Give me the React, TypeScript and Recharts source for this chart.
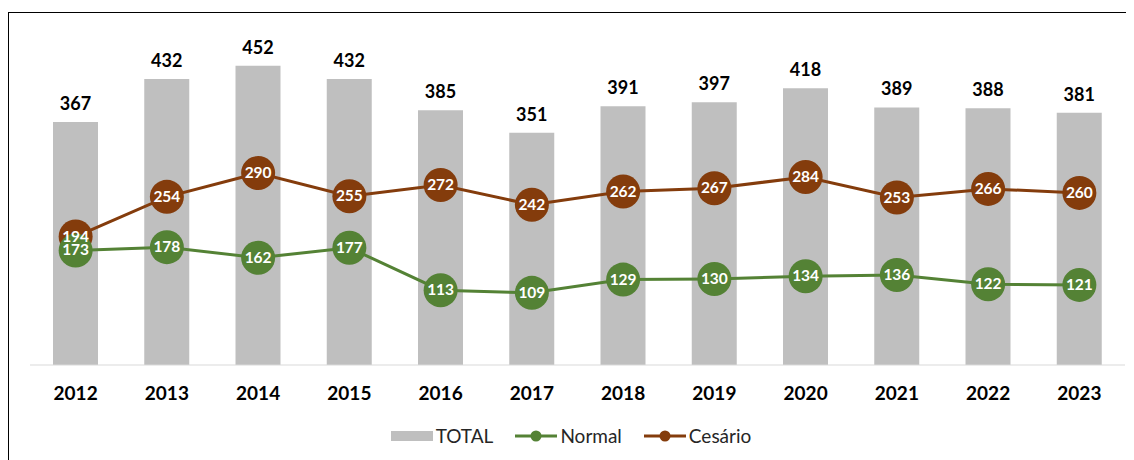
import {
  ComposedChart,
  Bar,
  Line,
  XAxis,
  YAxis,
  LabelList,
  Legend,
} from 'recharts';

const years = ['2012', '2013', '2014', '2015', '2016', '2017', '2018', '2019', '2020', '2021', '2022', '2023'];
const total = [367, 432, 452, 432, 385, 351, 391, 397, 418, 389, 388, 381];
const normal = [173, 178, 162, 177, 113, 109, 129, 130, 134, 136, 122, 121];
const cesario = [194, 254, 290, 255, 272, 242, 262, 267, 284, 253, 266, 260];

const GRAY = '#BFBFBF';
const GREEN = '#548235';
const BROWN = '#843C0C';
const FONT = 'Lato, "Open Sans", sans-serif';

const data = years.map((year, i) => ({
  year,
  total: total[i],
  normal: normal[i],
  cesario: cesario[i],
}));

const BubbleLabel = (props: any) => {
  const { x, y, value } = props;
  return (
    <text
      x={x}
      y={y}
      dy={5}
      textAnchor="middle"
      fill="#fff"
      fontWeight={700}
      fontSize={15.5}
      fontFamily={FONT}
    >
      {value}
    </text>
  );
};

const LegendContent = () => {
  const items = [
    { label: 'TOTAL', color: GRAY, kind: 'bar' },
    { label: 'Normal', color: GREEN, kind: 'line' },
    { label: 'Cesário', color: BROWN, kind: 'line' },
  ];
  return (
    <div style={{ display: 'flex', justifyContent: 'center', gap: 22, fontFamily: FONT, fontSize: 19, color: '#262626' }}>
      {items.map((it) => (
        <div key={it.label} style={{ display: 'flex', alignItems: 'center', gap: 3 }}>
          <svg width={42} height={14}>
            {it.kind === 'bar' ? (
              <rect x={0} y={2} width={42} height={10} fill={it.color} />
            ) : (
              <g>
                <line x1={0} y1={7} x2={42} y2={7} stroke={it.color} strokeWidth={3} />
                <circle cx={21} cy={7} r={5.5} fill={it.color} />
              </g>
            )}
          </svg>
          <span>{it.label}</span>
        </div>
      ))}
    </div>
  );
};

export default function App() {
  return (
    <div
      style={{
        marginTop: 4,
        width: 1124,
        height: 460,
        border: '1px solid #000',
        background: '#fff',
        boxSizing: 'content-box',
      }}
    >
      <ComposedChart
        width={1124}
        height={460}
        data={data}
        margin={{ top: 21, right: 8, bottom: 55, left: 21 }}
        barCategoryGap={0}
      >
        <XAxis
          dataKey="year"
          axisLine={{ stroke: '#D9D9D9', strokeWidth: 1 }}
          tickLine={false}
          tickSize={0}
          tickMargin={22}
          tick={{ fill: '#000', fontSize: 19, fontWeight: 700, fontFamily: FONT }}
          interval={0}
        />
        <YAxis hide domain={[0, 500]} />
        <Bar dataKey="total" name="TOTAL" fill={GRAY} barSize={45} isAnimationActive={false}>
          <LabelList
            dataKey="total"
            position="top"
            offset={12}
            fill="#000"
            fontSize={18}
            fontWeight={700}
            fontFamily={FONT}
          />
        </Bar>
        <Line
          dataKey="cesario"
          name="Cesário"
          stroke={BROWN}
          strokeWidth={3}
          dot={{ r: 17, fill: BROWN, stroke: BROWN, strokeWidth: 0 }}
          activeDot={false}
          isAnimationActive={false}
        />
        <Line
          dataKey="normal"
          name="Normal"
          stroke={GREEN}
          strokeWidth={3}
          dot={{ r: 17, fill: GREEN, stroke: GREEN, strokeWidth: 0 }}
          activeDot={false}
          isAnimationActive={false}
        >
          <LabelList dataKey="normal" content={<BubbleLabel />} />
        </Line>
        <Line
          dataKey="cesario"
          legendType="none"
          stroke="none"
          dot={false}
          activeDot={false}
          isAnimationActive={false}
        >
          <LabelList dataKey="cesario" content={<BubbleLabel />} />
        </Line>
        <Legend
          verticalAlign="bottom"
          content={<LegendContent />}
          wrapperStyle={{ bottom: 26, left: 0, width: 1124 }}
        />
      </ComposedChart>
    </div>
  );
}
